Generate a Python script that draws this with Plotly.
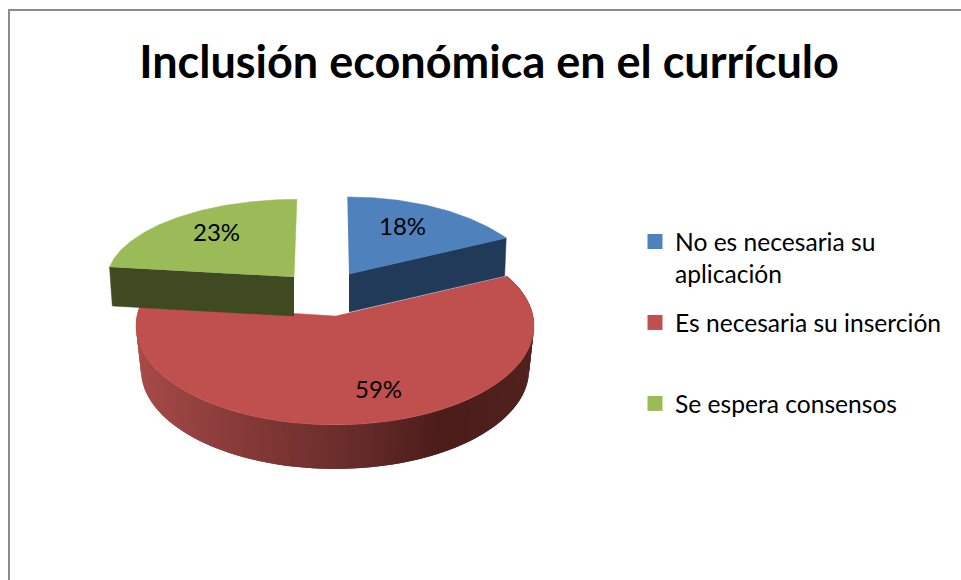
import math
import plotly.graph_objects as go

categories = ["No es necesaria su<br>aplicación", "Es necesaria su inserción<br>&nbsp;", "Se espera consensos"]
values = [18, 59, 23]
top_colors = ["#4F81BD", "#C0504D", "#9BBB59"]
wall_colors = ["#223A59", None, "#3F4A22"]

# projection settings per slice (drawing geometry, in chart pixels)
GEOM = [
    dict(cx=349, cy=274, R=188, Ry=91, k=0.18, skew=-2, depth=38, shrink=0.99),
    dict(cx=335, cy=316, R=198, Ry=98, k=0.10, skew=0, depth=44, shrink=0.975),
    dict(cx=294, cy=277, R=187, Ry=80, k=0.03, skew=3, depth=39, shrink=0.985),
]
LABEL_POS = [(402, 225), (378, 388), (216, 231)]
GRAD = [(-1.0, (168, 76, 73)), (-0.3, (127, 54, 52)), (0.15, (98, 42, 40)), (0.5, (75, 28, 26)), (1.0, (82, 34, 32))]


def project(g, t, lower=False):
    X, Y = math.sin(t), math.cos(t)
    s = 1 / (1 + g["k"] * Y)
    x = g["R"] * X * s + g["skew"] * Y * s
    y = g["cy"] - g["Ry"] * Y * s
    if lower:
        return g["cx"] + x * g["shrink"], y + g["depth"]
    return g["cx"] + x, y


def arc(g, a, b, lower=False, n=90):
    pts = [project(g, a + (b - a) * i / n, lower) for i in range(n + 1)]
    return [p[0] for p in pts], [p[1] for p in pts]


def grad_color(X):
    for (x0, c0), (x1, c1) in zip(GRAD, GRAD[1:]):
        if X <= x1:
            f = (X - x0) / (x1 - x0)
            return "rgb(%d,%d,%d)" % tuple(round(p + (q - p) * f) for p, q in zip(c0, c1))
    return "rgb(82,34,32)"


total = sum(values)
angles = []
acc = 0
for v in values:
    angles.append((acc / total * 2 * math.pi, (acc + v) / total * 2 * math.pi))
    acc += v

fig = go.Figure()


def poly(xs, ys, color, width=0.5):
    fig.add_trace(go.Scatter(x=xs, y=ys, mode="lines", fill="toself", fillcolor=color,
                             line=dict(color=color, width=width), hoverinfo="skip", showlegend=False))


# red slice: shaded outer wall, then top
g = GEOM[1]
a, b = angles[1]
steps = 140
dt = (b - a) / steps
for i in range(steps):
    t0 = a + dt * i
    # each strip runs past the next one so no seam shows between them
    t1 = min(b, t0 + 2 * dt)
    u = arc(g, t0, t1, n=2)
    l = arc(g, t1, t0, lower=True, n=2)
    poly(u[0] + l[0], u[1] + l[1], grad_color(math.sin(t0 + dt / 2)), width=0)
xs, ys = arc(g, a, b)
poly(xs + [g["cx"]], ys + [g["cy"]], top_colors[1])

# exploded slices: radial wall, then top
g = GEOM[0]
a, b = angles[0]
e = project(g, b)
el = project(g, b, True)
poly([g["cx"], e[0], el[0], g["cx"]], [g["cy"], e[1], el[1], g["cy"] + g["depth"]], wall_colors[0])
xs, ys = arc(g, a, b)
poly(xs + [g["cx"]], ys + [g["cy"]], top_colors[0])

g = GEOM[2]
a, b = angles[2]
e = project(g, a)
el = project(g, a, True)
poly([g["cx"], e[0], el[0], g["cx"]], [g["cy"], e[1], el[1], g["cy"] + g["depth"]], wall_colors[2])
xs, ys = arc(g, a, b)
poly(xs + [g["cx"]], ys + [g["cy"]], top_colors[2])

# legend entries
for name, color in zip(categories, top_colors):
    fig.add_trace(go.Scatter(x=[None], y=[None], mode="markers", name=name, legendgroup=name,
                             marker=dict(symbol="square", size=15, color=color)))

annotations = [dict(x=p[0], y=p[1], text=f"{v}%", showarrow=False, xanchor="center", yanchor="middle",
                    font=dict(family="Lato", size=24, color="#000000"))
               for v, p in zip(values, LABEL_POS)]

fig.update_layout(
    width=961, height=580, margin=dict(l=0, r=0, t=0, b=0), autosize=False,
    paper_bgcolor="white", plot_bgcolor="white",
    title=dict(text="<b>Inclusión económica en el currículo</b>", x=489 / 961, y=1 - 62 / 580,
               xanchor="center", yanchor="middle", font=dict(family="Lato", size=45, color="#000000")),
    xaxis=dict(range=[0, 961], visible=False, fixedrange=True),
    yaxis=dict(range=[580, 0], visible=False, fixedrange=True),
    annotations=annotations,
    shapes=[
        dict(type="line", xref="x", yref="y", x0=9, x1=9, y0=9, y1=580, line=dict(color="#8C8C8C", width=2)),
        dict(type="line", xref="x", yref="y", x0=8, x1=961, y0=10, y1=10, line=dict(color="#8C8C8C", width=2)),
    ],
    legend=dict(x=635 / 961, y=1 - 219 / 580, xanchor="left", yanchor="top", bgcolor="rgba(0,0,0,0)",
                font=dict(family="Lato", size=24.6, color="#000000"), valign="top",
                tracegroupgap=14, itemclick=False, itemdoubleclick=False),
    hovermode=False,
)
fig.write_html("out.html", config=dict(displayModeBar=False),
               post_script="document.body.style.margin='0';document.body.style.overflow='hidden';")
